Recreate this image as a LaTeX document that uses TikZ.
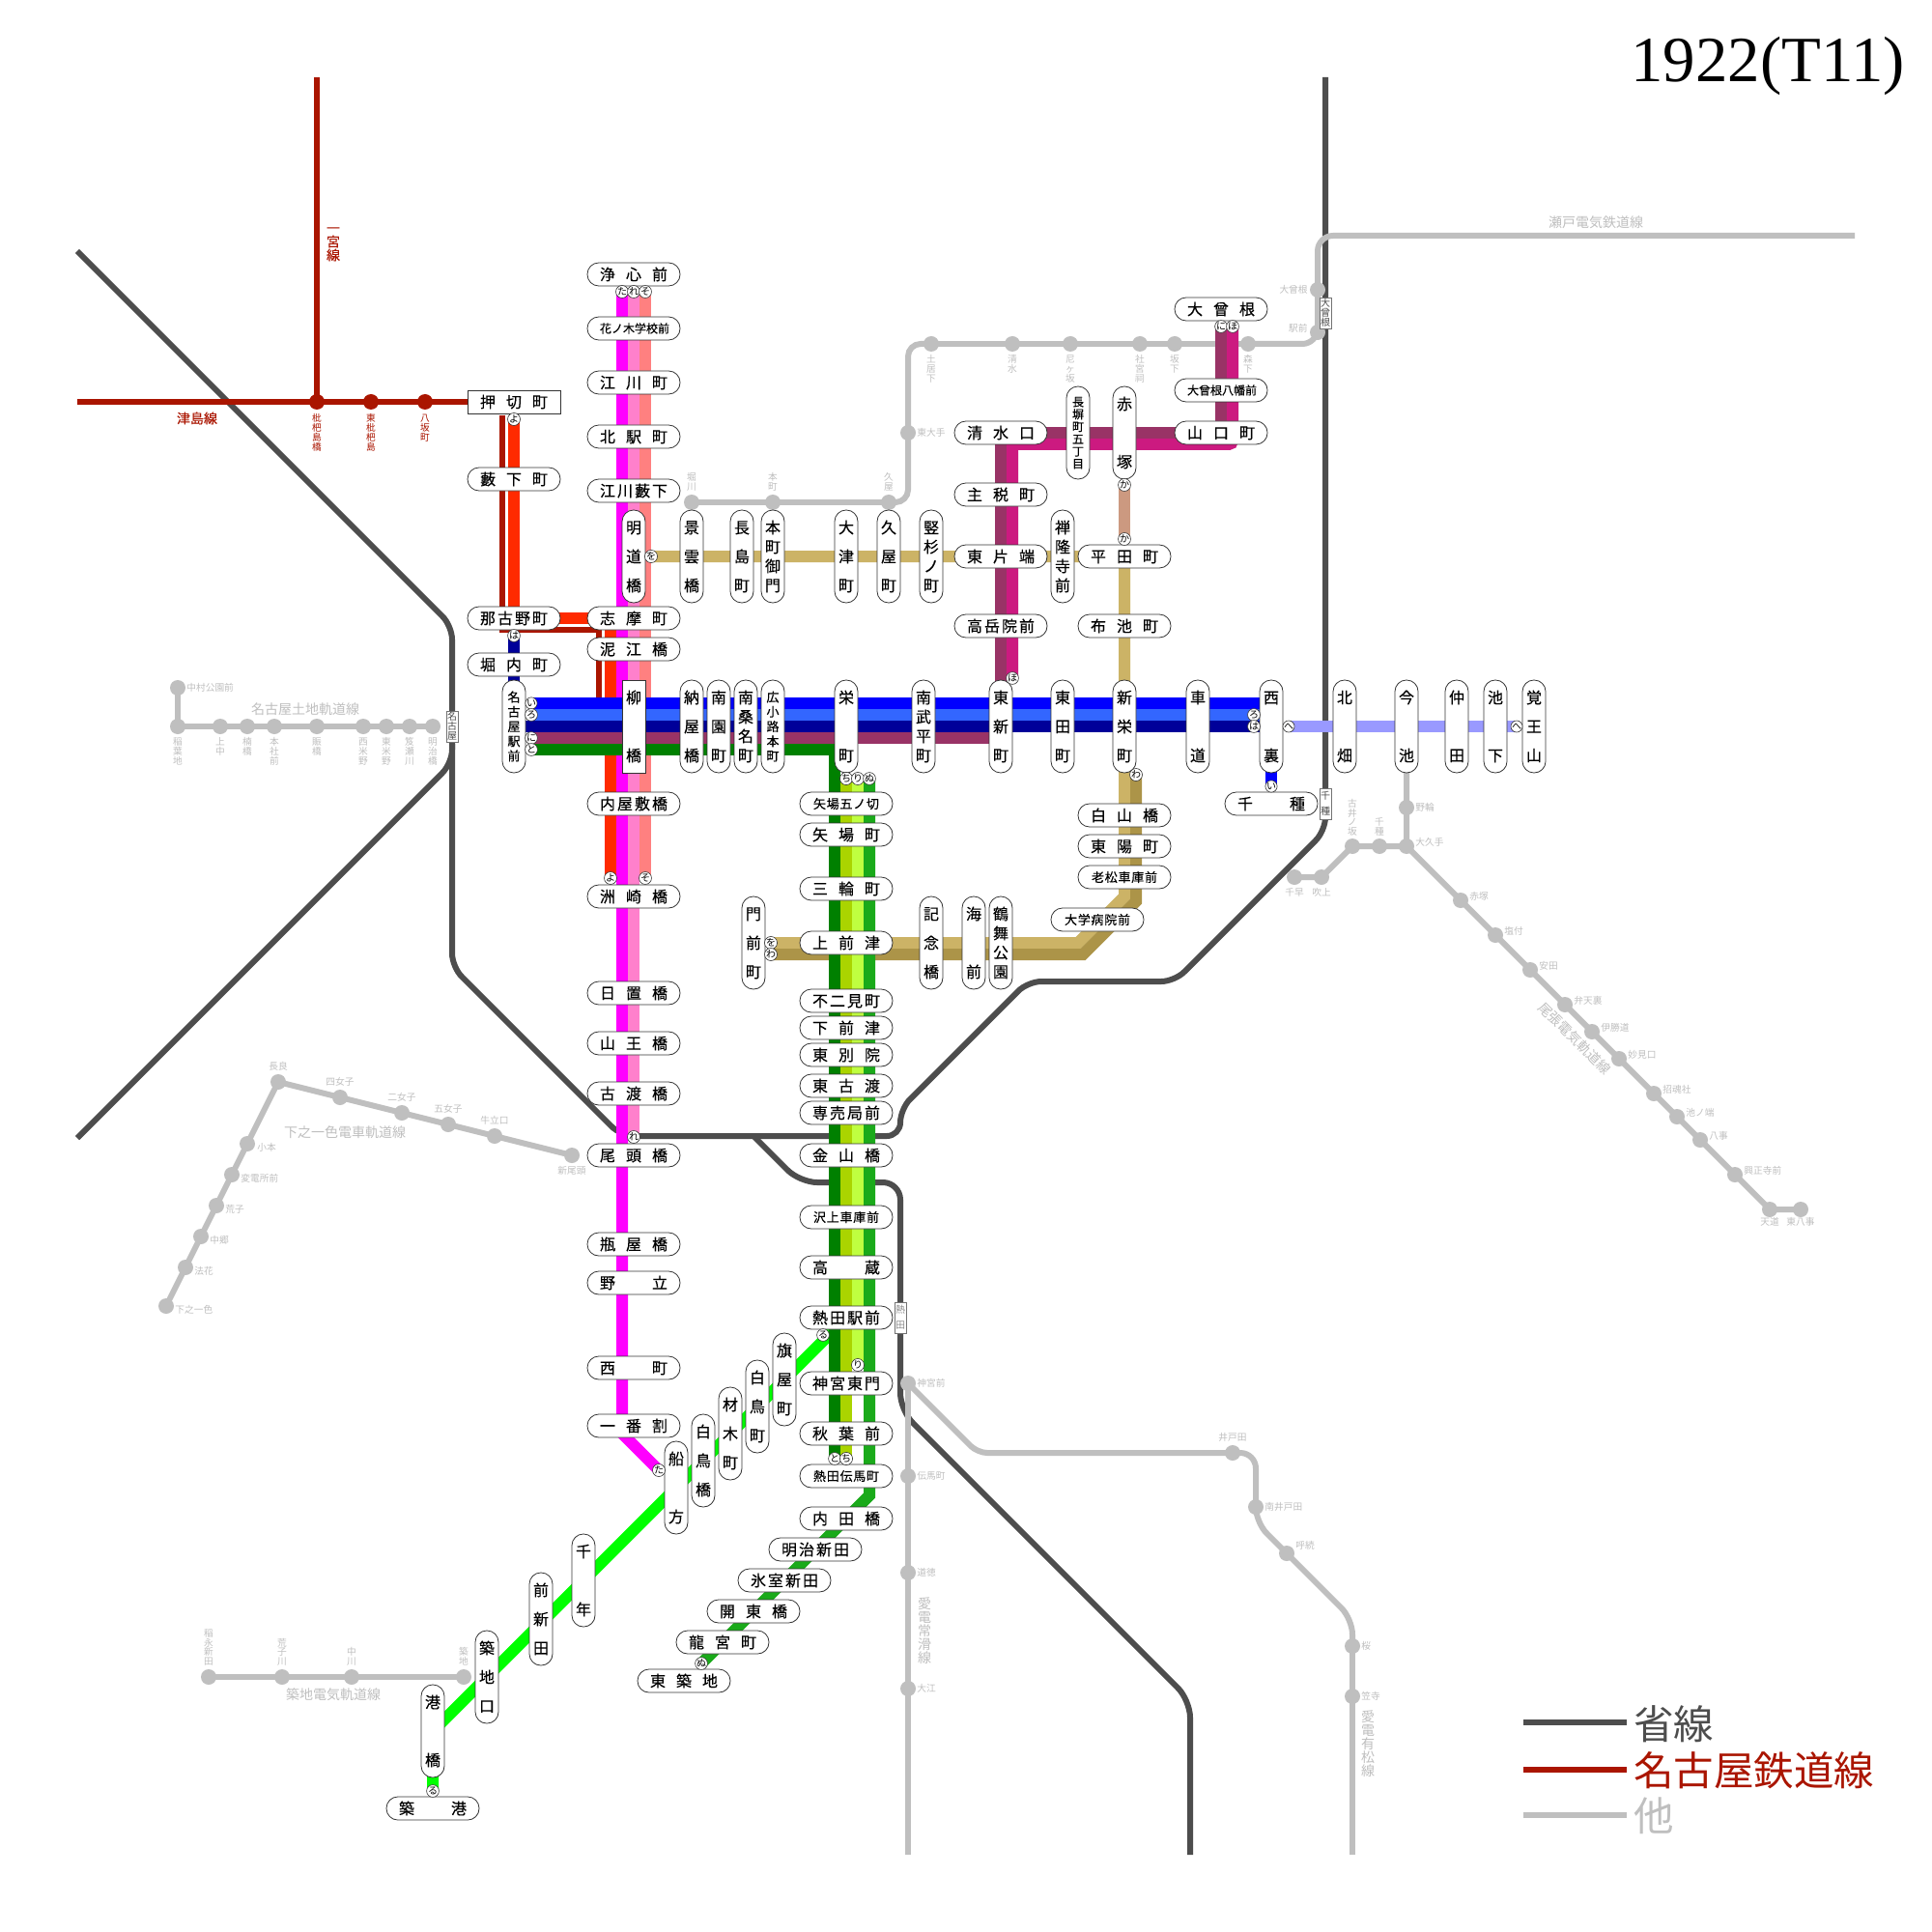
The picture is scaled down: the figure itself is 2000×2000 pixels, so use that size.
\documentclass[tikz,border=0pt]{standalone}
\usepackage{fontspec}
\newfontfamily\cjkf{Noto Sans CJK JP}
\newfontfamily\cjkb[FakeBold=0.25]{Noto Sans CJK JP}
\newfontfamily\ttlf{Liberation Serif}
\usetikzlibrary{calc}
\pgfdeclarelayer{back}\pgfdeclarelayer{mid}\pgfdeclarelayer{col}
\pgfsetlayers{back,mid,col,main}
\definecolor{cDark}{HTML}{4D4D4D}
\definecolor{cGray}{HTML}{BFBFBF}
\definecolor{cRail}{HTML}{AA1500}
\definecolor{cBlue}{HTML}{0000FF}
\definecolor{cMidB}{HTML}{3366FF}
\definecolor{cDkB}{HTML}{000099}
\definecolor{cPlum}{HTML}{993366}
\definecolor{cGrn}{HTML}{008000}
\definecolor{cMag}{HTML}{FF00FF}
\definecolor{cPink}{HTML}{FF80CC}
\definecolor{cSalm}{HTML}{FF8080}
\definecolor{cRed}{HTML}{FF2A00}
\definecolor{cGold}{HTML}{CCB366}
\definecolor{cDkGold}{HTML}{AC9448}
\definecolor{cCrim}{HTML}{CC1A80}
\definecolor{cTan}{HTML}{CC9980}
\definecolor{cLtB}{HTML}{9999FF}
\definecolor{cBrG}{HTML}{00FF00}
\definecolor{cMidG}{HTML}{1AAA1A}
\definecolor{cYG}{HTML}{AAD400}
\definecolor{cLtYG}{HTML}{BFFF40}
\newcommand\myspr[2]{#1\ifx\relax#2\else\hfil\expandafter\myspr\expandafter#2\fi}
\newcommand\myvsp[2]{\hbox to 1em{\hss\vrule height .88em depth .12em width 0pt #1\hss}\ifx\relax#2\else\vfil\expandafter\myvsp\expandafter#2\fi}
\newcommand\stk[1]{\vbox{\offinterlineskip\myvsp#1\relax\kern0pt}}
\newcommand\fntA{\cjkb\fontsize{8pt}{9pt}\selectfont}
\newcommand\fntB{\cjkb\fontsize{6.5pt}{7pt}\selectfont}
\newcommand\fntC{\cjkb\fontsize{6pt}{7pt}\selectfont}
\newcommand\fntD{\cjkb\fontsize{6pt}{7pt}\selectfont}
\newcommand\fntM{\cjkf\fontsize{5pt}{5pt}\selectfont}
\newcommand\fntL{\cjkf\fontsize{4.85pt}{5pt}\selectfont}
\newcommand\fntN{\cjkf\fontsize{7pt}{8pt}\selectfont}
\newcommand\fntR{\cjkb\fontsize{7pt}{8pt}\selectfont}
\newcommand\fntG{\cjkf\fontsize{20.75pt}{22pt}\selectfont}
\newcommand\fntS{\cjkf\fontsize{5pt}{5pt}\selectfont}
\tikzset{
 hp/.style={draw=black!80,fill=white,rounded corners=5.9pt,minimum width=48pt,minimum height=12pt,inner sep=0pt,line width=.4pt,text=black},
 vp/.style={draw=black!80,fill=white,rounded corners=5.9pt,minimum width=12pt,minimum height=48pt,inner sep=0pt,line width=.4pt,text=black},
 mk/.style={circle,draw=black!80,fill=white,minimum size=6pt,inner sep=0pt,line width=.3pt,font=\fntM,text=black},
 gdot/.style={circle,fill=cGray,minimum size=8pt,inner sep=0pt},
 rdot/.style={circle,fill=cRail,minimum size=8pt,inner sep=0pt},
 lab/.style={inner sep=0pt,font=\fntL,text=cGray},
 sg/.style={draw=black!55,fill=white,minimum width=6pt,minimum height=16pt,inner sep=0pt,line width=.35pt,font=\fntS,text=cDark},
 dk/.style={draw=cDark,line width=3pt,rounded corners=7pt},
 gl/.style={draw=cGray,line width=3pt},
 rl/.style={draw=cRail,line width=3pt},
 band/.style={line width=6pt},
}
\newcount\labc
\newcommand\HS[5][]{\node[hp,font=\fntA,#1] (#2) at (#3,#4) {\hbox to \dimexpr27pt+1em\relax{\vrule height .88em depth .12em width 0pt\myspr#5\relax}};}
\newcommand\HSa[4]{\node[hp,font=\fntB] (#1) at (#2,#3) {\hbox to \dimexpr27.5pt+1em\relax{\vrule height .88em depth .12em width 0pt\myspr#4\relax}};}
\newcommand\HSb[4]{\node[hp,font=\fntC] (#1) at (#2,#3) {\hbox to \dimexpr29pt+1em\relax{\vrule height .88em depth .12em width 0pt\myspr#4\relax}};}
\newcommand\VS[5][]{\node[vp,font=\fntA,#1] (#2) at (#3,#4) {\vbox to \dimexpr30pt+1em\relax{\offinterlineskip\myvsp#5\relax\kern0pt}};}
\newcommand\VSa[4]{\node[vp,font=\fntB] (#1) at (#2,#3) {\vbox to \dimexpr30.5pt+1em\relax{\offinterlineskip\myvsp#4\relax\kern0pt}};}
\newcommand\VSb[4]{\node[vp,font=\fntD] (#1) at (#2,#3) {\vbox to \dimexpr32pt+1em\relax{\offinterlineskip\myvsp#4\relax\kern0pt}};}
\newcommand\MK[4]{\node[mk] (#1) at (#2,#3) {#4};}
\newcommand\GD[3]{\node[gdot] (#1) at (#2,#3) {};}
\newcommand\LB[4][]{\global\advance\labc by 1 \node[lab,#1] (lab\the\labc) at (#2,#3) {#4};}
\newcommand\GE[3]{\LB[anchor=west]{#1}{#2}{#3}}
\newcommand\GT[3]{\LB[anchor=north]{#1}{#2}{\stk{#3}}}
\newcommand\GB[3]{\LB[anchor=south]{#1}{#2}{\stk{#3}}}
\newcommand\SG[6][]{\node[sg,#1] (#2) at (#3,#4) {\vbox to #5{\offinterlineskip\myvsp#6\relax\kern0pt}};}
\begin{document}
\begin{tikzpicture}[x=0.5pt,y=-0.5pt]
\useasboundingbox (0,0) rectangle (2000,2000);
\begin{pgfonlayer}{back}
\fill[white] (0,0) rectangle (2000,2000);
\end{pgfonlayer}
% --- stations
\HS[sharp corners]{Oshikiri}{532}{416}{押切町}
\HS{Yabushita}{532}{496}{藪下町}
\HS{Nagono}{532}{640}{那古野町}
\HS{Horiuchi}{532}{688}{堀内町}
\VSa{NagoyaEki}{532}{752}{名古屋駅前}
\HS{Joshin}{656}{284}{浄心前}
\HSb{Hanaki}{656}{340}{花ノ木学校前}
\HS{Egawa}{656}{396}{江川町}
\HS{Kitaeki}{656}{452}{北駅町}
\HS{EgawaY}{656}{508}{江川藪下}
\VS{Meido}{656}{576}{明道橋}
\HS{Shima}{656}{640}{志摩町}
\HS{Deie}{656}{672}{泥江橋}
\VS[sharp corners]{Yanagi}{656}{752}{柳橋}
\HS{Uchiyashiki}{656}{832}{内屋敷橋}
\HS{Suzaki}{656}{928}{洲崎橋}
\HS{Hioki}{656}{1028}{日置橋}
\HS{Sanno}{656}{1080}{山王橋}
\HS{Furuwatari}{656}{1132}{古渡橋}
\HS{Ototo}{656}{1196}{尾頭橋}
\HS{Kameya}{656}{1288}{瓶屋橋}
\HS{Nodachi}{656}{1328}{野立}
\HS{Nishimachi}{656}{1416}{西町}
\HS{Ichiban}{656}{1476}{一番割}
\VS{Keiun}{716}{576}{景雲橋}
\VS{Nagashima}{768}{576}{長島町}
\VS{Honmachi}{800}{576}{本町御門}
\VS{Otsu}{876}{576}{大津町}
\VS{Hisaya}{920}{576}{久屋町}
\VS{Tatesugi}{964}{576}{竪杉ノ町}
\HS{Higashikata}{1036}{576}{東片端}
\VS{Zenryu}{1100}{576}{禅隆寺前}
\HS{Hirata}{1164}{576}{平田町}
\HS{Nunoike}{1164}{648}{布池町}
\HS{Kogaku}{1036}{648}{高岳院前}
\HS{Chikara}{1036}{512}{主税町}
\HS{Shimizu}{1036}{448}{清水口}
\VSb{Nagahei}{1116}{448}{長塀町五丁目}
\VS{Akatsuka}{1164}{448}{赤塚}
\HS{Yamaguchi}{1264}{448}{山口町}
\HSb{OzoneH}{1264}{404}{大曾根八幡前}
\HS{Ozone}{1264}{320}{大曾根}
\VS{Noya}{716}{752}{納屋橋}
\VS{Minamizono}{744}{752}{南園町}
\VS{Minamikuwana}{772}{752}{南桑名町}
\VSa{Hirokoji}{800}{752}{広小路本町}
\VS{Sakae}{876}{752}{栄町}
\VS{Minamitakehira}{956}{752}{南武平町}
\VS{Higashishin}{1036}{752}{東新町}
\VS{Higashida}{1100}{752}{東田町}
\VS{Shinsakae}{1164}{752}{新栄町}
\VS{Kuruma}{1240}{752}{車道}
\VS{Nishiura}{1316}{752}{西裏}
\HS{Chikusa}{1316}{832}{千種}
\VS{Kitabata}{1392}{752}{北畑}
\VS{Imaike}{1456}{752}{今池}
\VS{Nakata}{1508}{752}{仲田}
\VS{Ikeshita}{1548}{752}{池下}
\VS{Kakuozan}{1588}{752}{覚王山}
\HS{Hakusan}{1164}{844}{白山橋}
\HS{Toyo}{1164}{876}{東陽町}
\HSa{Oimatsu}{1164}{908}{老松車庫前}
\HSa{Daigaku}{1136}{952}{大学病院前}
\VS{Monzen}{780}{976}{門前町}
\VS{Kinen}{964}{976}{記念橋}
\VS{Umimae}{1008}{976}{海前}
\VS{Tsuruma}{1036}{976}{鶴舞公園}
\HSa{YabaGo}{876}{832}{矢場五ノ切}
\HS{Yaba}{876}{864}{矢場町}
\HS{Miwa}{876}{920}{三輪町}
\HS{Kamimae}{876}{976}{上前津}
\HS{Fujimi}{876}{1036}{不二見町}
\HS{Shimomae}{876}{1064}{下前津}
\HS{Higashibetsu}{876}{1092}{東別院}
\HS{Higashifuru}{876}{1124}{東古渡}
\HS{Senbai}{876}{1152}{専売局前}
\HS{Kanayama}{876}{1196}{金山橋}
\HSa{Sawakami}{876}{1260}{沢上車庫前}
\HS{Takakura}{876}{1312}{高蔵}
\HS{AtsutaEki}{876}{1364}{熱田駅前}
\HS{Jingu}{876}{1432}{神宮東門}
\HS{Akiba}{876}{1484}{秋葉前}
\HSa{Tenma}{876}{1528}{熱田伝馬町}
\HS{Uchida}{876}{1572}{内田橋}
\HS{Meiji}{844}{1604}{明治新田}
\HS{Himuro}{812}{1636}{氷室新田}
\HS{Kaito}{780}{1668}{開東橋}
\HS{Ryugu}{748}{1700}{龍宮町}
\HS{Higashitsuki}{708}{1740}{東築地}
\VS{Hataya}{812}{1428}{旗屋町}
\VS{Shiratori}{784}{1456}{白鳥町}
\VS{Zaimoku}{756}{1484}{材木町}
\VS{ShiratoriB}{728}{1512}{白鳥橋}
\VS{Funakata}{700}{1540}{船方}
\VS{Chitose}{604}{1636}{千年}
\VS{Maeshinden}{560}{1676}{前新田}
\VS{Tsukijiguchi}{504}{1736}{築地口}
\VS{Minatobashi}{448}{1792}{港橋}
\HS{Tsukiko}{448}{1872}{築港}
% --- markers
\MK{mYo1}{532}{434}{よ}\MK{mHa1}{532}{658}{は}
\MK{mTa1}{644}{302}{た}\MK{mRe1}{656}{302}{れ}\MK{mSo1}{668}{302}{そ}
\MK{mWo1}{674}{576}{を}
\MK{mI1}{550}{728}{い}\MK{mRo1}{550}{740}{ろ}\MK{mNi1}{550}{764}{に}\MK{mTo1}{550}{776}{と}
\MK{mYo2}{632}{909}{よ}\MK{mSo2}{668}{909}{そ}\MK{mRe2}{656}{1177}{れ}\MK{mTa2}{682}{1522}{た}
\MK{mNi2}{1264}{338}{に}\MK{mHo2}{1276}{338}{ほ}\MK{mHo1}{1048}{702}{ほ}
\MK{mKa1}{1164}{502}{か}\MK{mKa2}{1164}{558}{か}
\MK{mRo2}{1298}{740}{ろ}\MK{mHa2}{1298}{752}{は}\MK{mHe1}{1334}{752}{へ}\MK{mHe2}{1570}{752}{へ}\MK{mI2}{1316}{814}{い}
\MK{mWa1}{1176}{802}{わ}\MK{mWo2}{798}{976}{を}\MK{mWa2}{798}{988}{わ}
\MK{mTi1}{876}{806}{ち}\MK{mRi1}{888}{806}{り}\MK{mNu1}{900}{806}{ぬ}
\MK{mRi2}{888}{1413}{り}\MK{mTo2}{864}{1510}{と}\MK{mTi2}{876}{1510}{ち}\MK{mNu2}{726}{1722}{ぬ}
\MK{mRu1}{852}{1382}{る}\MK{mRu2}{448}{1854}{る}
% --- other-company stations and labels
\begin{pgfonlayer}{mid}
\GD{gNakamura}{184}{712}\GD{gInaba}{184}{752}\GD{gKaminaka}{228}{752}\GD{gKusu}{256}{752}\GD{gHonsha}{284}{752}\GD{gNigi}{328}{752}\GD{gNishiY}{376}{752}\GD{gHigaY}{400}{752}\GD{gOise}{424}{752}\GD{gMeijiB}{448}{752}
\GD{gHori}{716}{520}\GD{gHon}{800}{520}\GD{gHisa}{920}{520}\GD{gTodai}{940}{448}\GD{gDoi}{964}{356}\GD{gShimi}{1048}{356}\GD{gAma}{1108}{356}\GD{gShagu}{1180}{356}\GD{gSaka}{1216}{356}\GD{gMori}{1292}{356}\GD{gEkimae}{1364}{344}\GD{gOzone}{1364}{300}
\GD{gNowa}{1456}{836}\GD{gOku}{1456}{876}\GD{gChik}{1428}{876}\GD{gFurui}{1400}{876}\GD{gFuki}{1368}{908}\GD{gChihaya}{1340}{908}
\GD{gAka}{1512}{932}\GD{gShio}{1548}{968}\GD{gYasu}{1584}{1004}\GD{gBen}{1620}{1040}\GD{gIka}{1648}{1068}\GD{gMyo}{1676}{1096}\GD{gSho}{1712}{1132}\GD{gIkeno}{1736}{1156}\GD{gYago}{1760}{1180}\GD{gKosho}{1796}{1216}\GD{gTen}{1832}{1252}\GD{gHigaYago}{1864}{1252}
\GD{gNagara}{288}{1120}\GD{gYon}{352}{1136}\GD{gNi}{416}{1152}\GD{gGo}{464}{1164}\GD{gUshi}{512}{1176}\GD{gShinO}{592}{1196}
\GD{gKo}{256}{1184}\GD{gHen}{240}{1216}\GD{gAra}{224}{1248}\GD{gNaka}{208}{1280}\GD{gHok}{192}{1312}\GD{gShimo}{172}{1352}
\GD{gIna}{216}{1736}\GD{gAraK}{292}{1736}\GD{gNakaK}{364}{1736}\GD{gTsuki}{480}{1736}
\GD{gJingu}{940}{1432}\GD{gDen}{940}{1528}\GD{gDou}{940}{1628}\GD{gOe}{940}{1748}
\GD{gIdo}{1276}{1504}\GD{gMinIdo}{1300}{1560}\GD{gYobi}{1332}{1608}\GD{gSakura}{1400}{1704}\GD{gKasa}{1400}{1756}
\node[rdot] (rBiwa) at (328,416) {};\node[rdot] (rHiga) at (384,416) {};\node[rdot] (rHachi) at (440,416) {};
\end{pgfonlayer}
\GE{193}{712}{中村公園前}
\LB[font=\fntN]{316}{734}{名古屋土地軌道線}
\GT{184}{763}{稲葉地}\GT{228}{763}{上中}\GT{256}{763}{楠橋}\GT{284}{763}{本社前}\GT{328}{763}{賑橋}\GT{376}{763}{西米野}\GT{400}{763}{東米野}\GT{424}{763}{笈瀬川}\GT{448}{763}{明治橋}
\GB{716}{509}{堀川}\GB{800}{509}{本町}\GB{920}{509}{久屋}
\GE{949}{448}{東大手}
\GT{964}{367}{土居下}\GT{1048}{367}{清水}\GT{1108}{367}{尼ヶ坂}\GT{1180}{367}{社宮祠}\GT{1216}{367}{坂下}\GT{1292}{367}{森下}
\LB[anchor=east]{1354}{300}{大曾根}\LB[anchor=east]{1354}{340}{駅前}
\LB[font=\fntN]{1652}{230}{瀬戸電気鉄道線}
\GB{1400}{866}{古井ノ坂}\GB{1428}{866}{千種}
\GE{1465}{836}{野輪}\GE{1465}{872}{大久手}
\LB{1340}{924}{千早}\LB{1368}{924}{吹上}
\GE{1521}{928}{赤塚}\GE{1557}{964}{塩付}\GE{1593}{1000}{安田}\GE{1629}{1036}{弁天裏}\GE{1657}{1064}{伊勝道}\GE{1685}{1092}{妙見口}\GE{1721}{1128}{招魂社}\GE{1745}{1152}{池ノ端}\GE{1769}{1176}{八事}\GE{1805}{1212}{興正寺前}
\LB{1832}{1265}{天道}\LB{1864}{1265}{東八事}
\LB[font=\fntN,rotate=-45]{1630}{1075}{尾張電気軌道線}
\LB{288}{1104}{長良}\LB{352}{1120}{四女子}\LB{416}{1136}{二女子}\LB{464}{1148}{五女子}\LB{512}{1160}{牛立口}\LB{592}{1212}{新尾頭}
\GE{266}{1188}{小本}\GE{249}{1220}{変電所前}\GE{233}{1252}{荒子}\GE{217}{1284}{中郷}\GE{201}{1316}{法花}\GE{181}{1356}{下之一色}
\LB[font=\fntN]{357}{1172}{下之一色電車軌道線}
\GB{216}{1725}{稲永新田}\GB{292}{1725}{荒子川}\GB{364}{1725}{中川}\GB{480}{1725}{築地}
\LB[font=\fntN]{345}{1754}{築地電気軌道線}
\GE{949}{1432}{神宮前}\GE{949}{1528}{伝馬町}\GE{949}{1628}{道徳}\GE{949}{1748}{大江}
\LB[font=\fntN]{957}{1688}{\stk{愛電常滑線}}
\LB{1276}{1488}{井戸田}\GE{1309}{1560}{南井戸田}\GE{1341}{1600}{呼続}\GE{1409}{1704}{桜}\GE{1409}{1756}{笠寺}
\LB[font=\fntN]{1416}{1805}{\stk{愛電有松線}}
\LB[font=\fntR,text=cRail]{204}{433}{津島線}
\LB[font=\fntR,text=cRail]{345}{250}{\stk{一宮線}}
\LB[anchor=north,text=cRail]{328}{428}{\stk{枇杷島橋}}
\LB[anchor=north,text=cRail]{384}{428}{\stk{東枇杷島}}
\LB[anchor=north,text=cRail]{440}{428}{\stk{八坂町}}
% --- JNR name boards
\SG{bNagoya}{468}{752}{15pt}{名古屋}
\SG{bOzone}{1372}{324}{15pt}{大曾根}
\SG{bChikusa}{1372}{832}{13pt}{千種}
\SG[text=black!45]{bAtsuta}{932}{1364}{13pt}{熱田}
% --- title and legend
\node[inner sep=0pt,font=\ttlf\fontsize{33.4pt}{36pt}\selectfont] (title) at (1830,68) {1922(T11)};
\coordinate (k1a) at (1577,1783);\coordinate (k1b) at (1684,1783);
\coordinate (k2a) at (1577,1832);\coordinate (k2b) at (1684,1832);
\coordinate (k3a) at (1577,1879);\coordinate (k3b) at (1684,1879);
\node[inner sep=0pt,anchor=west,font=\fntG,text=cDark] (k1t) at (1691,1785) {省線};
\node[inner sep=0pt,anchor=west,font=\fntG,text=cRail] (k2t) at (1691,1833) {名古屋鉄道線};
\node[inner sep=0pt,anchor=west,font=\fntG,text=cGray] (k3t) at (1691,1880) {他};
% --- JNR lines
\coordinate (dA) at (80,260);\coordinate (dB) at (1372,80);\coordinate (dC) at (80,1178);\coordinate (dD) at (468,770);
\coordinate (dE) at (780,1176);\coordinate (dF) at (1232,1920);
\begin{pgfonlayer}{back}
\draw[dk] (dA) -- (468,648) -- (468,1001) -- (643,1176) -- (932,1176) -- (932,1148) -- (1064,1016) -- (1216,1016) -- (1372,860) -- (dB);
\draw[dk] (dC) -- (468,790) -- (dD);
\draw[dk,rounded corners=9pt] (dE) -- (828,1224) -- (932,1224) -- (932,1460) -- (1232,1760) -- (dF);
\draw[draw=cDark,line width=3pt] (k1a) -- (k1b);
\end{pgfonlayer}
% --- other lines
\coordinate (gSeto) at (1920,244);\coordinate (gAiT) at (940,1920);\coordinate (gAiA) at (1400,1920);
\coordinate (rTsu) at (80,416);\coordinate (rIchi) at (328,80);
\begin{pgfonlayer}{mid}
\draw[gl] (gNakamura.center) -- (gInaba.center) -- (gKaminaka.center) -- (gKusu.center) -- (gHonsha.center) -- (gNigi.center) -- (gNishiY.center) -- (gHigaY.center) -- (gOise.center) -- (gMeijiB.center);
\draw[gl] (gHori.center) -- (gHon.center) -- (gHisa.center);
\draw[gl,rounded corners=6.5pt] (gHisa.center) -- (940,520) -- (gTodai.center);
\draw[gl,rounded corners=6.5pt] (gTodai.center) -- (940,356) -- (gDoi.center);
\draw[gl] (gDoi.center) -- (gShimi.center) -- (gAma.center) -- (gShagu.center) -- (gSaka.center) -- (gMori.center);
\draw[gl,rounded corners=8pt] (gMori.center) -- (1364,356) -- (gEkimae.center);
\draw[gl] (gEkimae.center) -- (gOzone.center);
\draw[gl,rounded corners=8pt] (gOzone.center) -- (1364,244) -- (gSeto);
\draw[gl] (Imaike.center) -- (gNowa.center) -- (gOku.center) -- (gChik.center) -- (gFurui.center) -- (gFuki.center) -- (gChihaya.center);
\draw[gl] (gOku.center) -- (gAka.center) -- (gShio.center) -- (gYasu.center) -- (gBen.center) -- (gIka.center) -- (gMyo.center) -- (gSho.center) -- (gIkeno.center) -- (gYago.center) -- (gKosho.center) -- (gTen.center) -- (gHigaYago.center);
\draw[gl] (gShimo.center) -- (gHok.center) -- (gNaka.center) -- (gAra.center) -- (gHen.center) -- (gKo.center) -- (gNagara.center) -- (gYon.center) -- (gNi.center) -- (gGo.center) -- (gUshi.center) -- (gShinO.center);
\draw[gl] (gIna.center) -- (gAraK.center) -- (gNakaK.center) -- (gTsuki.center);
\draw[gl] (gJingu.center) -- (gDen.center) -- (gDou.center) -- (gOe.center) -- (gAiT);
\draw[gl,rounded corners=5pt] (gJingu.center) -- (1012,1504) -- (gIdo.center);
\draw[gl,rounded corners=8pt] (gIdo.center) -- (1300,1504) -- (gMinIdo.center);
\draw[gl,rounded corners=8pt] (gMinIdo.center) -- (1300,1576) -- (gYobi.center);
\draw[gl,rounded corners=8pt] (gYobi.center) -- (1400,1676) -- (gSakura.center);
\draw[gl] (gSakura.center) -- (gKasa.center) -- (gAiA);
\draw[rl] (rTsu) -- (rBiwa.center) -- (rHiga.center) -- (rHachi.center) -- (Oshikiri.center);
\draw[rl] (rIchi) -- (rBiwa.center);
\draw[rl] (k2a) -- (k2b);
\draw[gl] (k3a) -- (k3b);
\end{pgfonlayer}
% --- tram lines
\coordinate (dr1) at (520,430);\coordinate (dr2) at (620,730);
\coordinate (bg0) at (864,1376);\coordinate (mg0) at (644,1484);
\begin{pgfonlayer}{col}
\draw[band,cGold] (mWo1.center) -- (1164,576) -- (1164,928) -- (1116,976) -- (mWo2.center);
\draw[band,cDkGold] (mWa1.center) -- (1176,933) -- (1121,988) -- (mWa2.center);
\draw[band,cTan] (mKa1.center) -- (mKa2.center);
\draw[line width=3pt,cRail] (dr1) -- (520,652) -- (620,652) -- (dr2);
\draw[band,cRed] (mYo1.center) -- (532,640) -- (632,640) -- (mYo2.center);
\draw[band,cMag] (mTa1.center) -- (mg0) -- (mTa2.center);
\draw[band,cPink] (mRe1.center) -- (mRe2.center);
\draw[band,cSalm] (mSo1.center) -- (mSo2.center);
\draw[band,cBrG] (bg0) -- (448,1792) -- (mRu2.center);
\draw[band,cYG] (mTi1.center) -- (mTi2.center);
\draw[band,cLtYG] (mRi1.center) -- (mRi2.center);
\draw[band,cMidG] (mNu1.center) -- (900,1548) -- (mNu2.center);
\draw[band,cLtB] (mHe1.center) -- (mHe2.center);
\draw[band,cBlue] (mI1.center) -- (1316,728) -- (mI2.center);
\draw[band,cMidB] (mRo1.center) -- (1316,740);
\draw[band,cDkB] (mHa1.center) -- (532,752) -- (mHa2.center) -- (1316,752);
\draw[band,cCrim] (mHo1.center) -- (1048,460) [rounded corners=2pt] -- (1276,460) [sharp corners] -- (mHo2.center);
\draw[band,cPlum] (mNi1.center) -- (1036,764) -- (1036,448) -- (1264,448) -- (mNi2.center);
\draw[band,cGrn] (mTo1.center) -- (864,776) -- (mTo2.center);
\end{pgfonlayer}
\end{tikzpicture}
\end{document}
